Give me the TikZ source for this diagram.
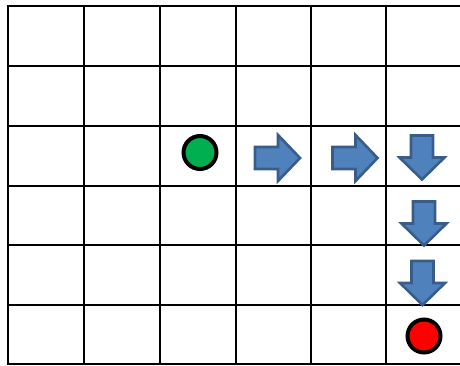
\documentclass[tikz,border=0pt]{standalone}
\usetikzlibrary{shapes.geometric}
\definecolor{afill}{HTML}{4F81BD}
\definecolor{aedge}{HTML}{385D8A}
\definecolor{dotgreen}{HTML}{00B050}
\definecolor{dotred}{HTML}{FF0000}
\tikzset{
  gridline/.style={black, line width=2pt, line cap=rect},
  arrowshape/.style={fill=afill, draw=aedge, line width=2.6pt, line join=miter},
  dot/.style={circle, draw=black, line width=4pt, minimum size=33pt, inner sep=0pt},
  rightarrow/.pic={\path[arrowshape] (-22.5,-11) -- (0.5,-11) -- (0.5,-23) -- (22.5,0) -- (0.5,23) -- (0.5,11) -- (-22.5,11) -- cycle;},
  downarrow/.pic={\path[arrowshape] (-11,-22) -- (-11,0) -- (-22.5,0) -- (0,22) -- (22.5,0) -- (11,0) -- (11,-22) -- cycle;}
}
\begin{document}
\begin{tikzpicture}[x=1pt,y=-1pt]
\useasboundingbox (0,0) rectangle (460,365);
% grid
\foreach \x in {8,84,160,236,311,386} \draw[gridline] (\x,6) -- (\x,364);
\foreach \y in {6,66,126,186,245,305,364} \draw[gridline] (8,\y) -- (460,\y);
% start and goal
\node[dot, fill=dotgreen] (start) at (200,152.5) {};
\node[dot, fill=dotred] (goal) at (424,336) {};
% path arrows
\pic at (277.5,158) {rightarrow};
\pic at (355,158) {rightarrow};
\pic at (422,157.5) {downarrow};
\pic at (424,223.5) {downarrow};
\pic at (422.5,283) {downarrow};
\end{tikzpicture}
\end{document}
